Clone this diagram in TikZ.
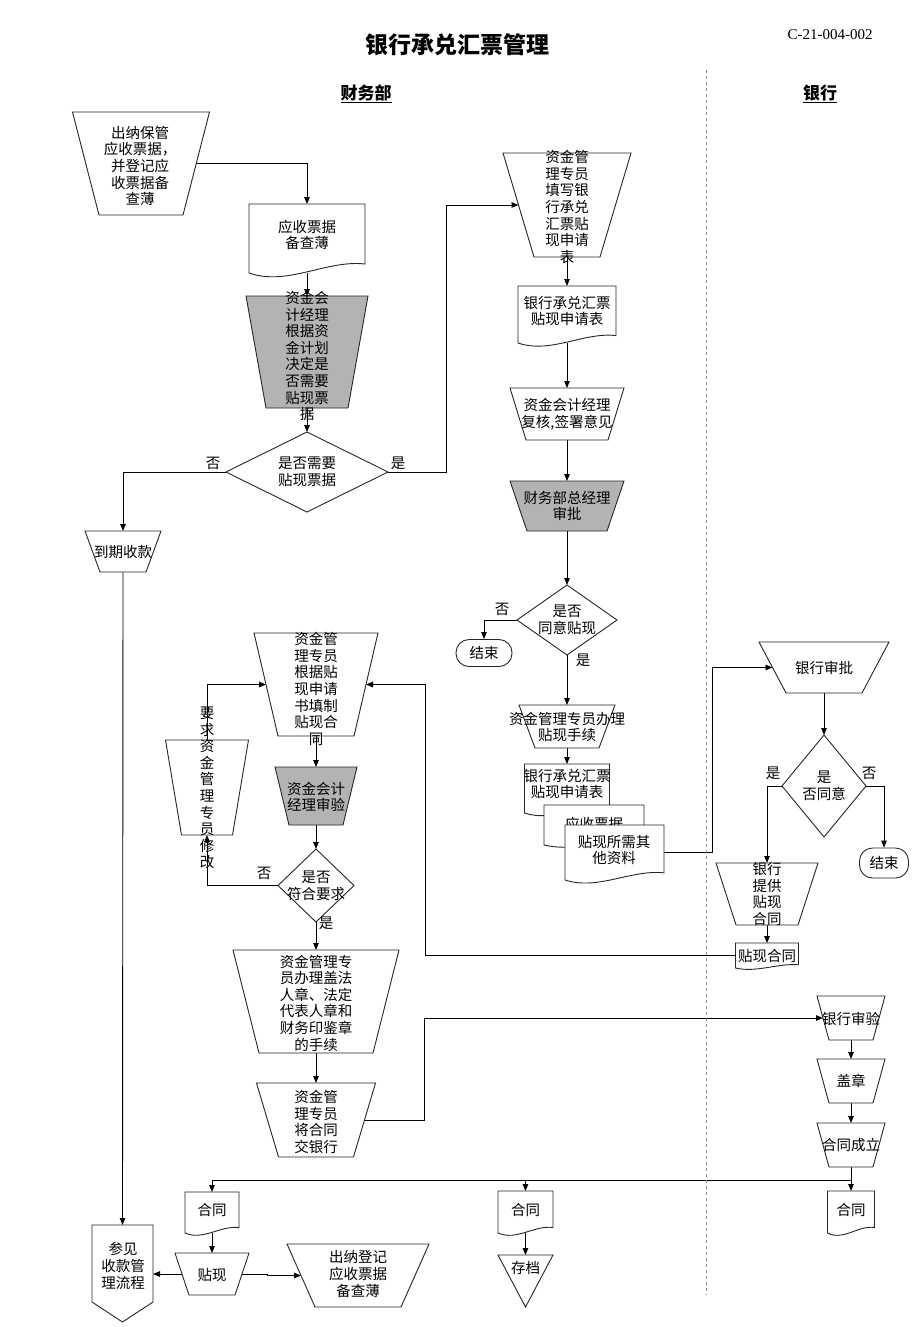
\documentclass[tikz,border=0pt]{standalone}
\usepackage{fontspec}
\setmainfont{Noto Sans CJK SC}
\newfontfamily\latfont{Liberation Serif}
\usetikzlibrary{arrows.meta,calc}
\pgfdeclarelayer{bg}
\pgfsetlayers{bg,main}
\definecolor{procgray}{RGB}{179,179,179}
\tikzset{
 shp/.style={draw=black!85, line width=0.9pt, fill=white},
 abox/.style={rectangle, draw=none, inner sep=0pt, outer sep=0pt},
 txt/.style={align=center, inner sep=0pt, font=\fontsize{14.5}{16.6}\selectfont},
 lbl/.style={inner sep=0pt, font=\fontsize{14.5}{16}\selectfont},
 conn/.style={draw=black, line width=0.9pt},
 arr/.style={conn, -{Triangle[length=7pt,width=5.5pt]}},
 term/.style={shp, rounded corners=13pt, inner sep=0pt, align=center, font=\fontsize{14.5}{16.6}\selectfont},
}
% trapezoid (manual operation): name, cx, top, bottom, top half width, bottom half width, fill
\newcommand\trapz[7]{%
 \path[shp, fill=#7] ({#2-#5},#3) -- ({#2+#5},#3) -- ({#2+#6},#4) -- ({#2-#6},#4) -- cycle;
 \node[abox, minimum width={2*#5*1pt}, minimum height={(#4-#3)*1pt}] (#1) at (#2,{(#3+#4)/2}) {};
 \coordinate (#1-w) at ({#2-(#5+#6)/2},{(#3+#4)/2});
 \coordinate (#1-e) at ({#2+(#5+#6)/2},{(#3+#4)/2});
}
% document: name, left, top, right, bottom
\newcommand\docu[5]{%
 \pgfmathsetmacro\docA{0.13*(#5-#3)}%
 \pgfmathsetmacro\docL{#2+(#4-#2)/3}%
 \pgfmathsetmacro\docR{#2+2*(#4-#2)/3}%
 \path[shp] (#2,#3) -- (#4,#3) -- (#4,{#5-\docA}) .. controls (\docR,{#5-1.5*\docA}) and (\docL,{#5+1.5*\docA}) .. (#2,#5) -- cycle;
 \node[abox, minimum width={(#4-#2)*1pt}, minimum height={(#5-#3)*1pt}] (#1) at ({(#2+#4)/2},{(#3+#5)/2}) {};
}
% diamond: name, cx, cy, half width, half height
\newcommand\diam[5]{%
 \path[shp] ({#2-#4},#3) -- (#2,{#3-#5}) -- ({#2+#4},#3) -- (#2,{#3+#5}) -- cycle;
 \node[abox, minimum width={2*#4*1pt}, minimum height={2*#5*1pt}] (#1) at (#2,#3) {};
}
\begin{document}
\begin{tikzpicture}[x=1pt,y=-1pt]
\useasboundingbox (0,0) rectangle (920,1327);

% headers
\node[font=\bfseries\fontsize{23}{26}\selectfont, inner sep=0pt] (title) at (457,45) {银行承兑汇票管理};
\node[font=\latfont\fontsize{15}{18}\selectfont, inner sep=0pt] (code) at (830,35) {C-21-004-002};
\node[font=\bfseries\fontsize{17}{20}\selectfont, inner sep=0pt] (h1) at (366,94) {\underline{财务部}};
\node[font=\bfseries\fontsize{17}{20}\selectfont, inner sep=0pt] (h2) at (820,94) {\underline{银行}};
\draw[black!45, dashed, line width=0.8pt] (706,70) -- (706,1295);

% left column
\trapz{A1}{141}{112}{215}{68.5}{42}{white}
\node[txt] (A1t) at (140,166) {出纳保管\\应收票据，\\并登记应\\收票据备\\查薄};
\docu{D1}{249}{204}{365}{273}
\node[txt] (D1t) at (307,235) {应收票据\\备查薄};
\trapz{P1}{307}{296}{408}{61}{41}{procgray}
\node[txt] (P1t) at (307,356) {资金会\\计经理\\根据资\\金计划\\决定是\\否需要\\贴现票\\据};
\diam{Q1}{307}{472}{81}{40}
\node[txt] (Q1t) at (307,472) {是否需要\\贴现票据};
\trapz{DQ}{123}{531}{572}{38}{23}{white}
\node[txt] (DQt) at (123,552) {到期收款};
\path[shp] (92,1225) -- (153,1225) -- (153,1302) -- (122.5,1322) -- (92,1302) -- cycle;
\node[abox, minimum width=61pt, minimum height=77pt] (CJ) at (122.5,1263.5) {};
\node[txt] (CJt) at (123,1266) {参见\\收款管\\理流程};

% middle column (top)
\trapz{B1}{567}{153}{257}{64}{33}{white}
\node[txt] (B1t) at (567,207) {资金管\\理专员\\填写银\\行承兑\\汇票贴\\现申请\\表};
\docu{D2}{518}{286}{616}{343}
\node[txt] (D2t) at (567,311) {银行承兑汇票\\贴现申请表};
\trapz{P2}{567}{388}{440}{57}{41}{white}
\node[txt] (P2t) at (567,414) {资金会计经理\\复核,签署意见};
\trapz{P3}{567}{481}{531}{57}{40}{procgray}
\node[txt] (P3t) at (567,506) {财务部总经理\\审批};
\diam{Q2}{567}{620}{50}{35}
\node[txt] (Q2t) at (567,620) {是否\\同意贴现};
\node[term, minimum width=56pt, minimum height=27pt] (E1) at (484,653) {结束};
\trapz{P4}{567}{705}{748}{48}{32}{white}
\node[txt] (P4t) at (567,727) {资金管理专员办理\\贴现手续};
\docu{D3a}{524.5}{764}{609.5}{813}
\node[txt] (D3at) at (567,784) {银行承兑汇票\\贴现申请表};
\docu{D3b}{544}{805}{644}{845}
\node[txt] (D3bt) at (594,824) {应收票据};
\docu{D3c}{565}{825}{664}{880}
\node[txt] (D3ct) at (614,850) {贴现所需其\\他资料};

% bank column
\trapz{BA}{824}{642}{693}{65}{38}{white}
\node[txt] (BAt) at (824,668) {银行审批};
\diam{Q3}{824}{786}{42}{51}
\node[txt] (Q3t) at (824,786) {是\\否同意};
\node[term, minimum width=49pt, minimum height=30pt] (E2) at (884,863) {结束};
\trapz{P5}{767}{863}{925}{51}{31}{white}
\node[txt] (P5t) at (767,894) {银行\\提供\\贴现\\合同};
\docu{D4}{735.5}{943}{798.5}{968}
\node[txt] (D4t) at (767,956) {贴现合同};

% left-middle lower
\trapz{P6}{316}{633}{736}{62}{38}{white}
\node[txt] (P6t) at (316,689) {资金管\\理专员\\根据贴\\现申请\\书填制\\贴现合\\同};
\trapz{P7}{316}{767}{825}{41}{27}{procgray}
\node[txt] (P7t) at (316,797) {资金会计\\经理审验};
\diam{Q4}{316}{885.5}{38}{36.5}
\node[txt] (Q4t) at (316,886) {是否\\符合要求};
\trapz{P8}{207}{740}{835}{41.5}{25.5}{white}
\node[txt] (P8t) at (207,788) {要\\求\\资\\金\\管\\理\\专\\员\\修\\改};
\trapz{P9}{316}{950}{1053}{83}{57}{white}
\node[txt] (P9t) at (316,1003) {资金管理专\\员办理盖法\\人章、法定\\代表人章和\\财务印鉴章\\的手续};
\trapz{P10}{316}{1083}{1157}{59.5}{37.5}{white}
\node[txt] (P10t) at (316,1122) {资金管\\理专员\\将合同\\交银行};

% bank lower
\trapz{BV}{851}{996}{1040}{34}{22}{white}
\node[txt] (BVt) at (851,1019) {银行审验};
\trapz{GZ}{851}{1059}{1103}{34}{22}{white}
\node[txt] (GZt) at (851,1081) {盖章};
\trapz{HT}{851}{1123}{1167}{34}{22}{white}
\node[txt] (HTt) at (851,1145) {合同成立};
\docu{D7}{827.5}{1191}{874.5}{1233}
\node[txt] (D7t) at (851,1210) {合同};
\docu{D6}{498}{1191}{553}{1233}
\node[txt] (D6t) at (525.5,1210) {合同};
\docu{D5}{185}{1192}{239}{1233}
\node[txt] (D5t) at (212,1210) {合同};
\trapz{TX}{212}{1253}{1295}{37}{23}{white}
\node[txt] (TXt) at (212,1275) {贴现};
\trapz{CN}{358}{1244}{1307}{71}{43}{white}
\node[txt] (CNt) at (358,1274) {出纳登记\\应收票据\\备查薄};
\path[shp] (498,1255) -- (553,1255) -- (525.5,1307) -- cycle;
\node[abox, minimum width=55pt, minimum height=52pt] (CD) at (525.5,1281) {};
\node[txt] (CDt) at (525.5,1268) {存档};

% labels
\node[lbl] (l1) at (213,463) {否};
\node[lbl] (l2) at (398,463) {是};
\node[lbl] (l3) at (502,609) {否};
\node[lbl] (l4) at (583,660) {是};
\node[lbl] (l5) at (773,773) {是};
\node[lbl] (l6) at (869,773) {否};
\node[lbl] (l7) at (264,873) {否};
\node[lbl] (l8) at (326,923) {是};

\coordinate (J) at (851,1180);

\begin{pgfonlayer}{bg}
\draw[arr] (A1-e) -| (D1.north);
\draw[arr] (D1.south) -- (P1.north);
\draw[arr] (P1.south) -- (Q1.north);
\draw[arr] (Q1.east) -- ++(58,0) |- (B1-w);
\draw[arr] (Q1.west) -| (DQ.north);
\draw[arr] (DQ.south) -- (CJ.north);
\draw[arr] (B1.south) -- (D2.north);
\draw[arr] (D2.south) -- (P2.north);
\draw[arr] (P2.south) -- (P3.north);
\draw[arr] (P3.south) -- (Q2.north);
\draw[arr] (Q2.west) -| (E1.north);
\draw[arr] (Q2.south) -- (P4.north);
\draw[arr] (P4.south) -- (D3a.north);
\draw[arr] (D3c.east) -- ++(48,0) |- (BA-w);
\draw[arr] (BA.south) -- (Q3.north);
\draw[arr] (Q3.west) -| (P5.north);
\draw[arr] (Q3.east) -| (E2.north);
\draw[arr] (P5.south) -- (D4.north);
\draw[arr] (D4.west) -- ++(-310,0) |- (P6-e);
\draw[arr] (P6.south) -- (P7.north);
\draw[arr] (P7.south) -- (Q4.north);
\draw[arr] (Q4.west) -| (P8.south);
\draw[arr] (P8.north) |- (P6-w);
\draw[arr] (Q4.south) -- (P9.north);
\draw[arr] (P9.south) -- (P10.north);
\draw[arr] (P10-e) -- ++(60,0) |- (BV-w);
\draw[arr] (BV.south) -- (GZ.north);
\draw[arr] (GZ.south) -- (HT.north);
\draw[arr] (HT.south) -- (D7.north);
\draw[arr] (J) -| (D5.north);
\draw[arr] (J -| D6.north) -- (D6.north);
\draw[arr] (D5.south) -- (TX.north);
\draw[arr] (TX-w) -- (TX-w -| CJ.east);
\draw[arr] (TX-e) -- ++(25,0) |- (CN-w);
\draw[arr] (D6.south) -- (CD.north);
\end{pgfonlayer}
\end{tikzpicture}
\end{document}
